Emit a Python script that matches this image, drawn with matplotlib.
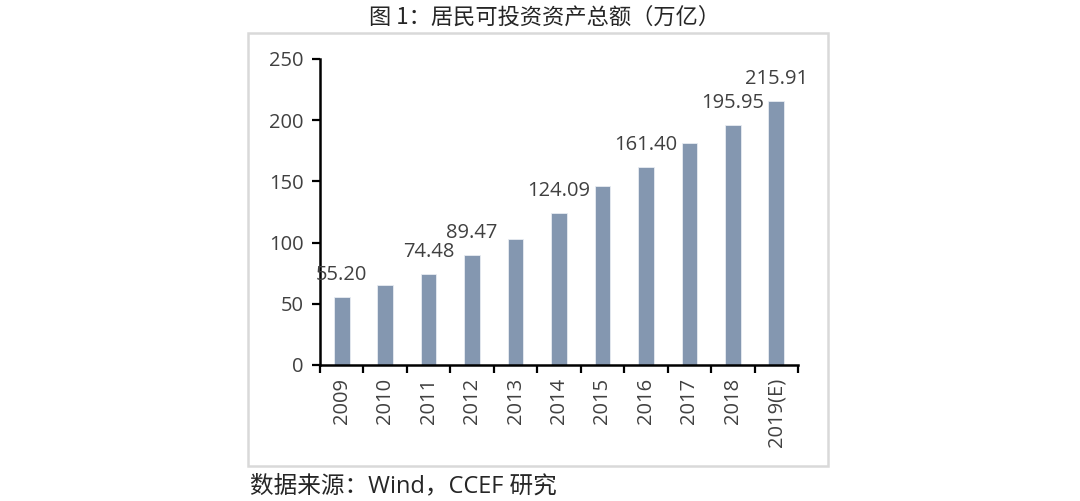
import matplotlib
matplotlib.use('Agg')
import matplotlib.pyplot as plt
from matplotlib.patches import Rectangle

# --- data ---
YEARS = ['2009', '2010', '2011', '2012', '2013', '2014', '2015',
         '2016', '2017', '2018', '2019(E)']
ASSETS = [55.20, 65.5, 74.48, 89.47, 103.0, 124.09, 146.0,
          161.40, 181.5, 195.95, 215.91]
LABELED = ['2009', '2011', '2012', '2014', '2016', '2018', '2019(E)']

TITLE = '图 1：居民可投资资产总额（万亿）'
SOURCE = '数据来源：Wind，CCEF 研究'

BAR_COLOR = '#8497B0'
TEXT_COLOR = '#404040'

plt.rcParams['font.family'] = ['Open Sans', 'Noto Sans CJK SC', 'DejaVu Sans']

W, H = 1080, 501
fig = plt.figure(figsize=(W / 100, H / 100), dpi=100)

# light grey frame round the chart
fig.add_artist(Rectangle((248 / W, 1 - 466 / H), 580 / W, 433 / H,
                         transform=fig.transFigure, fill=False,
                         edgecolor='#D9D9D9', linewidth=1.8))

ax = fig.add_axes([320 / W, 1 - 365 / H, 478 / W, 306 / H])
x = list(range(len(YEARS)))
ax.bar(x, ASSETS, width=0.36, color=BAR_COLOR, edgecolor='#E8ECF2', linewidth=0.6)

for i, (yr, v) in enumerate(zip(YEARS, ASSETS)):
    if yr in LABELED:
        ax.annotate(f'{v:.2f}', (i, v), xytext=(0, 16), textcoords='offset points',
                    ha='center', va='center', fontsize=14.5, color=TEXT_COLOR,
                    annotation_clip=False)

ax.set_xlim(-0.5, len(YEARS) - 0.5)
ax.set_ylim(0, 250)
ax.set_yticks([0, 50, 100, 150, 200, 250])

ax.set_xticks(x)
ax.set_xticklabels(YEARS, rotation=90, fontsize=14.5, color=TEXT_COLOR)
ax.set_xticks([i - 0.5 for i in range(len(YEARS) + 1)], minor=True)
ax.tick_params(axis='x', which='major', length=0, pad=9)
ax.tick_params(axis='x', which='minor', length=6, width=1.6, direction='out', color='black')
ax.tick_params(axis='y', labelsize=14.5, labelcolor=TEXT_COLOR, length=6, width=1.6,
               direction='out', color='black', pad=6)

for s in ['top', 'right']:
    ax.spines[s].set_visible(False)
for s in ['left', 'bottom']:
    ax.spines[s].set_linewidth(1.8)
    ax.spines[s].set_color('black')

fig.text(545 / W, 1 - 17 / H, TITLE, ha='center', va='center', fontsize=16,
         color='#262626', family=['Noto Sans CJK SC', 'DejaVu Sans'])
fig.text(250 / W, 1 - 486 / H, SOURCE, ha='left', va='center', fontsize=17,
         color='#262626', family=['Open Sans', 'Noto Sans CJK SC', 'DejaVu Sans'])

fig.savefig('out.png', dpi=100)
